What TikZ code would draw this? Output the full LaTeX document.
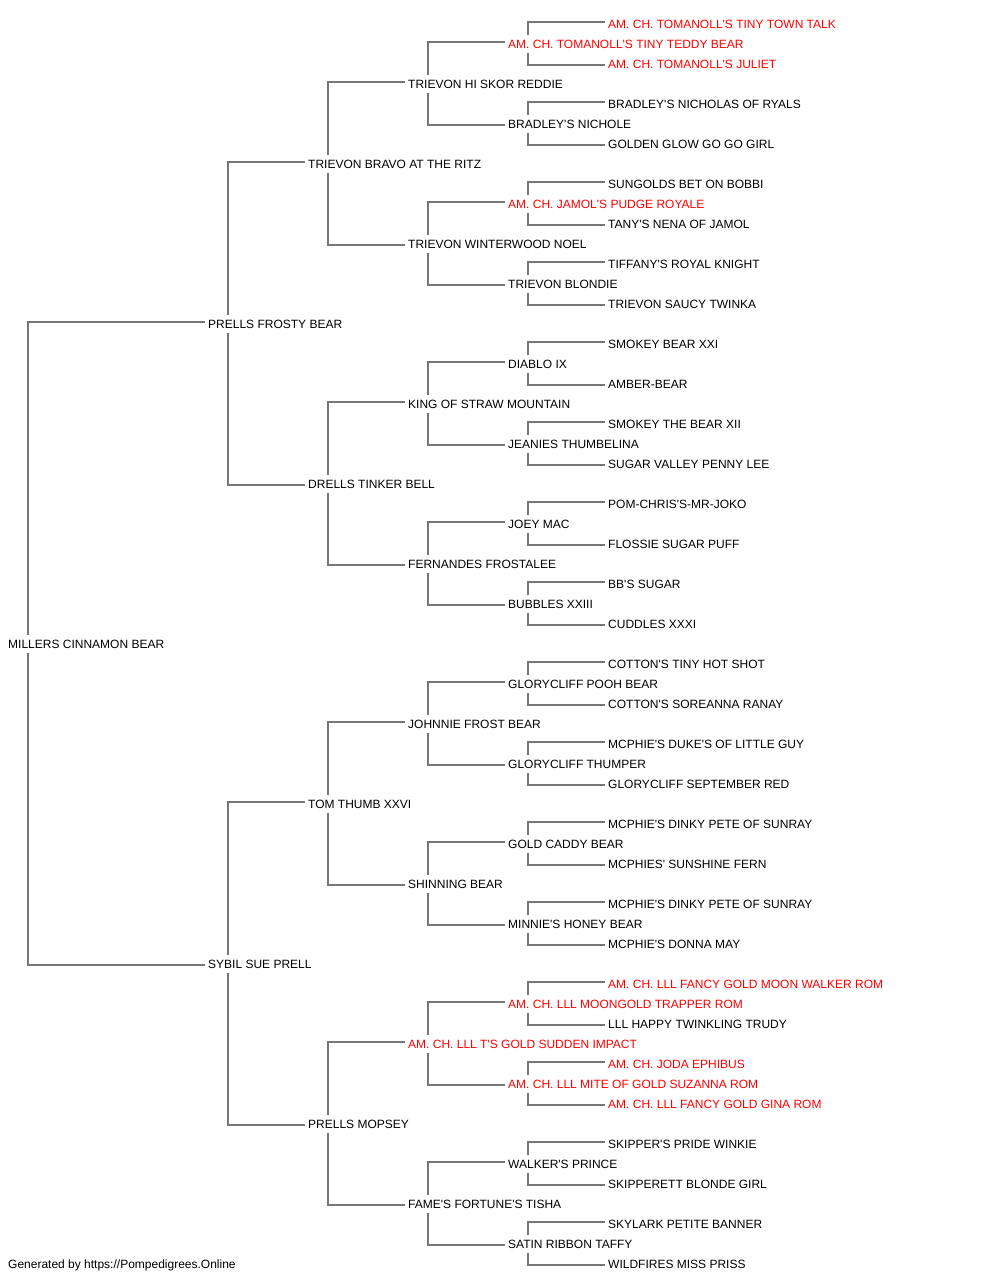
\documentclass[tikz,border=0pt]{standalone}
\usepackage{fontspec}
\newfontfamily\dogfont{Liberation Sans}
\usetikzlibrary{calc}
\definecolor{linegray}{HTML}{777777}
\definecolor{champ}{HTML}{FF0000}
\tikzset{
  dog/.style={anchor=west, inner sep=0pt, text height=8.6pt, text depth=0pt,
    font=\dogfont\fontsize{12}{14}\selectfont, text=black},
  red dog/.style={dog, text=champ},
  conn/.style={draw=linegray, line width=1.6pt, line cap=butt},
}
\begin{document}
\begin{tikzpicture}[x=1pt,y=-1pt]
\useasboundingbox (0,0) rectangle (1000,1280);
% generation 0
\node[dog] (g0k0) at (8,644.5) {MILLERS CINNAMON BEAR};
% generation 1
\node[dog] (g1k0) at (208,324.5) {PRELLS FROSTY BEAR};
\node[dog] (g1k1) at (208,964.5) {SYBIL SUE PRELL};
% generation 2
\node[dog] (g2k0) at (308,164.5) {TRIEVON BRAVO AT THE RITZ};
\node[dog] (g2k1) at (308,484.5) {DRELLS TINKER BELL};
\node[dog] (g2k2) at (308,804.5) {TOM THUMB XXVI};
\node[dog] (g2k3) at (308,1124.5) {PRELLS MOPSEY};
% generation 3
\node[dog] (g3k0) at (408,84.5) {TRIEVON HI SKOR REDDIE};
\node[dog] (g3k1) at (408,244.5) {TRIEVON WINTERWOOD NOEL};
\node[dog] (g3k2) at (408,404.5) {KING OF STRAW MOUNTAIN};
\node[dog] (g3k3) at (408,564.5) {FERNANDES FROSTALEE};
\node[dog] (g3k4) at (408,724.5) {JOHNNIE FROST BEAR};
\node[dog] (g3k5) at (408,884.5) {SHINNING BEAR};
\node[red dog] (g3k6) at (408,1044.5) {AM. CH. LLL T'S GOLD SUDDEN IMPACT};
\node[dog] (g3k7) at (408,1204.5) {FAME'S FORTUNE'S TISHA};
% generation 4
\node[red dog] (g4k0) at (508,44.5) {AM. CH. TOMANOLL'S TINY TEDDY BEAR};
\node[dog] (g4k1) at (508,124.5) {BRADLEY'S NICHOLE};
\node[red dog] (g4k2) at (508,204.5) {AM. CH. JAMOL'S PUDGE ROYALE};
\node[dog] (g4k3) at (508,284.5) {TRIEVON BLONDIE};
\node[dog] (g4k4) at (508,364.5) {DIABLO IX};
\node[dog] (g4k5) at (508,444.5) {JEANIES THUMBELINA};
\node[dog] (g4k6) at (508,524.5) {JOEY MAC};
\node[dog] (g4k7) at (508,604.5) {BUBBLES XXIII};
\node[dog] (g4k8) at (508,684.5) {GLORYCLIFF POOH BEAR};
\node[dog] (g4k9) at (508,764.5) {GLORYCLIFF THUMPER};
\node[dog] (g4k10) at (508,844.5) {GOLD CADDY BEAR};
\node[dog] (g4k11) at (508,924.5) {MINNIE'S HONEY BEAR};
\node[red dog] (g4k12) at (508,1004.5) {AM. CH. LLL MOONGOLD TRAPPER ROM};
\node[red dog] (g4k13) at (508,1084.5) {AM. CH. LLL MITE OF GOLD SUZANNA ROM};
\node[dog] (g4k14) at (508,1164.5) {WALKER'S PRINCE};
\node[dog] (g4k15) at (508,1244.5) {SATIN RIBBON TAFFY};
% generation 5
\node[red dog] (g5k0) at (608,24.5) {AM. CH. TOMANOLL'S TINY TOWN TALK};
\node[red dog] (g5k1) at (608,64.5) {AM. CH. TOMANOLL'S JULIET};
\node[dog] (g5k2) at (608,104.5) {BRADLEY'S NICHOLAS OF RYALS};
\node[dog] (g5k3) at (608,144.5) {GOLDEN GLOW GO GO GIRL};
\node[dog] (g5k4) at (608,184.5) {SUNGOLDS BET ON BOBBI};
\node[dog] (g5k5) at (608,224.5) {TANY'S NENA OF JAMOL};
\node[dog] (g5k6) at (608,264.5) {TIFFANY'S ROYAL KNIGHT};
\node[dog] (g5k7) at (608,304.5) {TRIEVON SAUCY TWINKA};
\node[dog] (g5k8) at (608,344.5) {SMOKEY BEAR XXI};
\node[dog] (g5k9) at (608,384.5) {AMBER-BEAR};
\node[dog] (g5k10) at (608,424.5) {SMOKEY THE BEAR XII};
\node[dog] (g5k11) at (608,464.5) {SUGAR VALLEY PENNY LEE};
\node[dog] (g5k12) at (608,504.5) {POM-CHRIS'S-MR-JOKO};
\node[dog] (g5k13) at (608,544.5) {FLOSSIE SUGAR PUFF};
\node[dog] (g5k14) at (608,584.5) {BB'S SUGAR};
\node[dog] (g5k15) at (608,624.5) {CUDDLES XXXI};
\node[dog] (g5k16) at (608,664.5) {COTTON'S TINY HOT SHOT};
\node[dog] (g5k17) at (608,704.5) {COTTON'S SOREANNA RANAY};
\node[dog] (g5k18) at (608,744.5) {MCPHIE'S DUKE'S OF LITTLE GUY};
\node[dog] (g5k19) at (608,784.5) {GLORYCLIFF SEPTEMBER RED};
\node[dog] (g5k20) at (608,824.5) {MCPHIE'S DINKY PETE OF SUNRAY};
\node[dog] (g5k21) at (608,864.5) {MCPHIES' SUNSHINE FERN};
\node[dog] (g5k22) at (608,904.5) {MCPHIE'S DINKY PETE OF SUNRAY};
\node[dog] (g5k23) at (608,944.5) {MCPHIE'S DONNA MAY};
\node[red dog] (g5k24) at (608,984.5) {AM. CH. LLL FANCY GOLD MOON WALKER ROM};
\node[dog] (g5k25) at (608,1024.5) {LLL HAPPY TWINKLING TRUDY};
\node[red dog] (g5k26) at (608,1064.5) {AM. CH. JODA EPHIBUS};
\node[red dog] (g5k27) at (608,1104.5) {AM. CH. LLL FANCY GOLD GINA ROM};
\node[dog] (g5k28) at (608,1144.5) {SKIPPER'S PRIDE WINKIE};
\node[dog] (g5k29) at (608,1184.5) {SKIPPERETT BLONDE GIRL};
\node[dog] (g5k30) at (608,1224.5) {SKYLARK PETITE BANNER};
\node[dog] (g5k31) at (608,1264.5) {WILDFIRES MISS PRISS};
% footer
\node[dog] (footer) at (8,1264.5) {Generated by https://Pompedigrees.Online};
% connectors
\foreach \g/\n in {0/0,1/1,2/3,3/7,4/15}{
  \foreach \k in {0,...,\n}{
    \pgfmathtruncatemacro{\c}{\g+1}
    \pgfmathtruncatemacro{\a}{2*\k}
    \pgfmathtruncatemacro{\b}{2*\k+1}
    \draw[conn] ($(g\g k\k.west)+(20,-10)$) |- ($(g\c k\a.west)+(-3,-2.5)$);
    \draw[conn] ($(g\g k\k.west)+(20,8.5)$) |- ($(g\c k\b.west)+(-3,0.5)$);
  }
}
\end{tikzpicture}
\end{document}
